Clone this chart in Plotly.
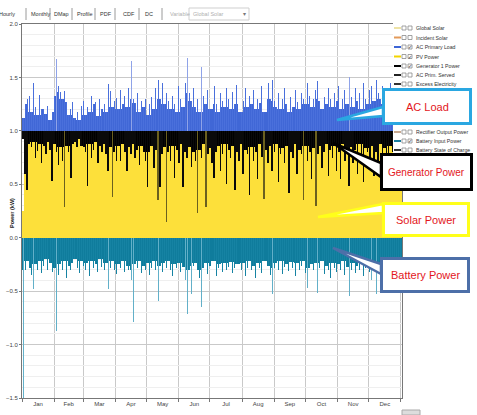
import plotly.graph_objects as go

# ---------------- data (one value per 2 days) ----------------
months = ["Jan", "Feb", "Mar", "Apr", "May", "Jun", "Jul", "Aug", "Sep", "Oct", "Nov", "Dec"]
month_start_day = [0, 31, 59, 90, 120, 151, 181, 212, 243, 273, 304, 334, 365]
y_ticks = [-1.5, -1.0, -0.5, 0.0, 0.5, 1.0, 1.5, 2.0]

# AC primary load peaks (kW)
ac_load = [
    1.12, 1.25, 1.30, 1.33, 1.18, 1.45, 1.22, 1.15, 1.34, 1.20,
    1.20, 1.16, 1.23, 1.10, 1.18, 1.33, 1.67, 1.42, 1.36, 1.30,
    1.37, 1.27, 1.15, 1.20, 1.27, 1.12, 1.18, 1.10, 1.23, 1.28,
    1.15, 1.22, 1.18, 1.33, 1.25, 1.27, 1.14, 1.30, 1.20, 1.25,
    1.18, 1.44, 1.37, 1.22, 1.28, 1.31, 1.20, 1.38, 1.25, 1.33,
    1.22, 1.40, 1.65, 1.30, 1.26, 1.35, 1.18, 1.28, 1.22, 1.30,
    1.15, 1.25, 1.32, 1.20, 1.40, 1.48, 1.30, 1.45, 1.25, 1.35,
    1.28, 1.20, 1.33, 1.25, 1.18, 1.42, 1.30, 1.22, 1.45, 1.68,
    1.35, 1.28, 1.40, 1.22, 1.30, 1.18, 1.60, 1.33, 1.25, 1.38,
    1.20, 1.30, 1.42, 1.25, 1.18, 1.35, 1.28, 1.22, 1.40, 1.30,
    1.20, 1.36, 1.25, 1.43, 1.30, 1.18, 1.28, 1.40, 1.22, 1.33,
    1.25, 1.38, 1.20, 1.30, 1.26, 1.42, 1.18, 1.32, 1.45, 1.30,
    1.48, 1.28, 1.22, 1.35, 1.20, 1.30, 1.40, 1.25, 1.18, 1.32,
    1.22, 1.38, 1.27, 1.20, 1.35, 1.30, 1.25, 1.45, 1.33, 1.22,
    1.30, 1.38, 1.47, 1.28, 1.20, 1.32, 1.25, 1.40, 1.30, 1.22,
    1.35, 1.28, 1.42, 1.20, 1.30, 1.38, 1.25, 1.50, 1.32, 1.22,
    1.40, 1.28, 1.35, 1.20, 1.45, 1.30, 1.25, 1.38, 1.42, 1.28,
    1.48, 1.35, 1.30, 1.42, 1.25, 1.38, 1.33, 1.45, 1.30, 1.40,
    1.35, 1.28, 1.42,
]

# lower edge of the generator band (kW)
generator = [
    0.92, 0.60, 0.45, 0.88, 0.85, 0.90, 0.75, 0.81, 0.88, 0.70,
    0.86, 0.78, 0.90, 0.82, 0.53, 0.88, 0.80, 0.68, 0.85, 0.72,
    0.29, 0.86, 0.80, 0.56, 0.88, 0.90, 0.85, 0.92, 0.86, 0.85,
    0.80, 0.48, 0.88, 0.75, 0.82, 0.90, 0.70, 0.86, 0.80, 0.88,
    0.78, 0.62, 0.85, 0.38, 0.80, 0.72, 0.86, 0.72, 0.88, 0.80,
    0.62, 0.85, 0.78, 0.88, 0.75, 0.82, 0.68, 0.86, 0.80, 0.72,
    0.47, 0.80, 0.86, 0.65, 0.82, 0.35, 0.47, 0.78, 0.85, 0.15,
    0.80, 0.72, 0.86, 0.56, 0.82, 0.70, 0.88, 0.47, 0.80, 0.75,
    0.85, 0.66, 0.80, 0.72, 0.23, 0.82, 0.75, 0.88, 0.29, 0.78,
    0.84, 0.70, 0.56, 0.80, 0.86, 0.62, 0.78, 0.88, 0.50, 0.82,
    0.75, 0.86, 0.45, 0.80, 0.72, 0.88, 0.60, 0.82, 0.78, 0.40,
    0.85, 0.72, 0.80, 0.55, 0.88, 0.76, 0.36, 0.82, 0.70, 0.86,
    0.62, 0.80, 0.88, 0.52, 0.78, 0.84, 0.70, 0.86, 0.42, 0.80,
    0.75, 0.88, 0.60, 0.82, 0.78, 0.35, 0.86, 0.72, 0.80, 0.55,
    0.84, 0.30, 0.78, 0.86, 0.65, 0.80, 0.88, 0.58, 0.82, 0.75,
    0.86, 0.62, 0.80, 0.55, 0.88, 0.72, 0.80, 0.48, 0.85, 0.70,
    0.82, 0.60, 0.88, 0.76, 0.52, 0.84, 0.80, 0.68, 0.86, 0.58,
    0.80, 0.72, 0.88, 0.62, 0.84, 0.78, 0.55, 0.86, 0.80, 0.70,
    0.85, 0.66, 0.82,
]

# PV power (kW) - flat plateau at 1.0 after the first day
pv_power = [0.25] + [1.0] * 182

# battery input power (kW, negative = discharge)
battery = [
    -1.50, -0.30, -0.22, -0.28, -0.35, -0.48, -0.25, -0.30, -0.22, -0.33,
    -0.26, -0.20, -0.30, -0.24, -0.32, -0.28, -0.87, -0.35, -0.25, -0.30,
    -0.22, -0.38, -0.26, -0.30, -0.24, -0.20, -0.28, -0.33, -0.22, -0.26,
    -0.30, -0.24, -0.36, -0.22, -0.28, -0.25, -0.32, -0.20, -0.27, -0.30,
    -0.24, -0.48, -0.28, -0.22, -0.30, -0.34, -0.25, -0.28, -0.22, -0.32,
    -0.26, -0.30, -0.40, -0.79, -0.25, -0.28, -0.22, -0.33, -0.26, -0.30,
    -0.24, -0.35, -0.28, -0.22, -0.30, -0.59, -0.26, -0.32, -0.24, -0.28,
    -0.22, -0.30, -0.36, -0.25, -0.28, -0.24, -0.32, -0.27, -0.40, -0.71,
    -0.30, -0.53, -0.26, -0.24, -0.30, -0.38, -0.65, -0.28, -0.24, -0.34,
    -0.26, -0.30, -0.22, -0.36, -0.28, -0.25, -0.32, -0.24, -0.30, -0.27,
    -0.23, -0.33, -0.28, -0.25, -0.47, -0.30, -0.24, -0.36, -0.28, -0.22,
    -0.30, -0.26, -0.38, -0.24, -0.28, -0.33, -0.22, -0.30, -0.26, -0.35,
    -0.53, -0.28, -0.24, -0.30, -0.22, -0.34, -0.27, -0.25, -0.31, -0.23,
    -0.28, -0.36, -0.24, -0.30, -0.26, -0.22, -0.33, -0.47, -0.28, -0.25,
    -0.30, -0.24, -0.52, -0.28, -0.22, -0.34, -0.26, -0.30, -0.38, -0.24,
    -0.28, -0.32, -0.25, -0.30, -0.22, -0.35, -0.27, -0.55, -0.30, -0.24,
    -0.33, -0.26, -0.30, -0.22, -0.36, -0.28, -0.25, -0.32, -0.40, -0.26,
    -0.53, -0.30, -0.24, -0.34, -0.28, -0.22, -0.30, -0.38, -0.26, -0.32,
    -0.28, -0.35, -0.30,
]

# legend rows that are visible (rows hidden behind the AC Load box are omitted)
legend_rows = [
    ("Global Solar", "#eee3a6", False, 28),
    ("Incident Solar", "#e39a5a", False, 37.5),
    ("AC Primary Load", "#3d66d6", True, 47),
    ("PV Power", "#f2d400", True, 56.5),
    ("Generator 1 Power", "#000000", True, 66),
    ("AC Prim. Served", "#222222", False, 75),
    ("Excess Electricity", "#333333", False, 84),
    ("Rectifier Output Power", "#c8a890", False, 132),
    ("Battery Input Power", "#1a7fa0", True, 141),
    ("Battery State of Charge", "#333333", False, 150),
]
tabs = ["Hourly", "Monthly", "DMap", "Profile", "PDF", "CDF", "DC"]

# ---------------- geometry helpers (pixel -> paper) ----------------
L, R, T, B, W, H = 22, 75, 24, 17, 477, 415
PW, PH = W - L - R, H - T - B


def px(x):
    return (x - L) / PW


def py(y):
    return (H - B - y) / PH


n = len(ac_load)
xpos = [2 * i + 1 for i in range(n)]


def nb(vals, i):
    return [vals[j] for j in (i - 1, i, i + 1) if 0 <= j < n]


# dense (solid) part of each band: envelope of neighbouring values
load_band = [min(nb(ac_load, i)) for i in range(n)]
gen_band = [max(nb(generator, i)) for i in range(n)]
batt_band = [max(nb(battery, i)) for i in range(n)]

fig = go.Figure()
fig.add_trace(go.Bar(x=xpos, y=pv_power, base=0, width=2.05,
                     marker=dict(color="#fde03a", line=dict(width=0))))
# generator: solid band + dips
fig.add_trace(go.Bar(x=xpos, y=[g - 1.0 for g in gen_band], base=1.0, width=2.05,
                     marker=dict(color="#000000", line=dict(width=0))))
fig.add_trace(go.Bar(x=xpos, y=[g - 1.0 for g in generator], base=1.0, width=1.4,
                     marker=dict(color=["#6b601f" if g < 0.4 else "#0a0a0a" for g in generator],
                                 line=dict(width=0))))
# AC load: solid band + thin spikes
fig.add_trace(go.Bar(x=xpos, y=[a - 1.0 for a in load_band], base=1.0, width=2.05,
                     marker=dict(color="#4067d6", line=dict(width=0))))
fig.add_trace(go.Bar(x=xpos, y=[a - 1.0 for a in ac_load], base=1.0, width=0.95,
                     marker=dict(color=["#8fa3e8" if a >= 1.5 else "#4a70dc" for a in ac_load],
                                 line=dict(width=0))))
# battery: solid band + thin spikes
fig.add_trace(go.Bar(x=xpos, y=batt_band, base=0, width=2.05,
                     marker=dict(color="#0f7c9c", line=dict(width=0))))
fig.add_trace(go.Bar(x=xpos, y=battery, base=0, width=0.95,
                     marker=dict(color=["#62b0c9" if b <= -0.4 else "#1683a3" for b in battery],
                                 line=dict(width=0))))

mid_month = [(month_start_day[i] + month_start_day[i + 1]) / 2 for i in range(12)]

fig.update_layout(
    width=W, height=H, margin=dict(l=L, r=R, t=T, b=B, autoexpand=False),
    paper_bgcolor="white", plot_bgcolor="white",
    barmode="overlay", bargap=0, showlegend=False, hovermode=False,
    font=dict(family="Liberation Sans", size=6, color="#333333"),
)
fig.update_xaxes(
    range=[0, 366], tickmode="array", tickvals=mid_month, ticktext=months,
    ticks="", showgrid=False, zeroline=False, automargin=False,
    showline=True, linecolor="#777777", linewidth=1, mirror=True,
    tickfont=dict(size=6, color="#444444"),
    minor=dict(tickmode="array", tickvals=month_start_day, showgrid=True,
               gridcolor="#c9c9c9", gridwidth=1, ticks="outside", ticklen=3,
               tickcolor="#777777"),
)
fig.update_yaxes(
    range=[-1.5, 2.0], tickmode="array", tickvals=y_ticks, tickformat=".1f",
    showgrid=True, gridcolor="#c9c9c9", zeroline=False, automargin=False,
    showline=True, linecolor="#777777", linewidth=1, mirror=True,
    ticks="outside", ticklen=2, tickcolor="#777777",
    tickfont=dict(size=6, color="#444444"),
    minor=dict(dtick=0.1, showgrid=True, gridcolor="#efefef"),
)

shapes = []
ann = []

# y-axis title
ann.append(dict(x=px(7), y=py(213), xref="paper", yref="paper", text="<b>Power (kW)</b>",
                textangle=-90, showarrow=False, font=dict(size=5.5, color="#222")))

# toolbar tabs
tab_x = [-3, 29, 52, 75, 98, 121, 143]
sep_x = [26, 50, 72, 95, 115, 139, 162]
for t, x0 in zip(tabs, tab_x):
    ann.append(dict(x=px(x0), y=py(14), xref="paper", yref="paper", text=t,
                    xanchor="left", yanchor="middle", showarrow=False,
                    font=dict(size=5.5, color="#333")))
for sx in sep_x:
    shapes.append(dict(type="line", xref="paper", yref="paper", x0=px(sx), x1=px(sx),
                       y0=py(8), y1=py(20), line=dict(color="#9a9a9a", width=1)))
ann.append(dict(x=px(168), y=py(14), xref="paper", yref="paper", text="Variable",
                xanchor="left", yanchor="middle", showarrow=False,
                font=dict(size=5.5, color="#b0b0b0")))
shapes.append(dict(type="rect", xref="paper", yref="paper", x0=px(189), x1=px(249),
                   y0=py(20), y1=py(8), line=dict(color="#cfcfcf", width=1), fillcolor="white"))
ann.append(dict(x=px(191), y=py(14), xref="paper", yref="paper", text="Global Solar",
                xanchor="left", yanchor="middle", showarrow=False,
                font=dict(size=5.5, color="#b0b0b0")))
ann.append(dict(x=px(244), y=py(14), xref="paper", yref="paper", text="▾",
                xanchor="center", yanchor="middle", showarrow=False,
                font=dict(size=6, color="#777")))

# legend panel
shapes.append(dict(type="rect", xref="paper", yref="paper", x0=px(393), x1=px(478),
                   y0=py(158), y1=py(20), line=dict(width=0), fillcolor="white", layer="above"))
for name, col, chk, yy in legend_rows:
    shapes.append(dict(type="line", xref="paper", yref="paper", x0=px(394), x1=px(401),
                       y0=py(yy), y1=py(yy), line=dict(color=col, width=2), layer="above"))
    for cx in (404, 410):
        shapes.append(dict(type="rect", xref="paper", yref="paper", x0=px(cx - 2), x1=px(cx + 2),
                           y0=py(yy + 2), y1=py(yy - 2), line=dict(color="#8a8a8a", width=0.8),
                           fillcolor="white", layer="above"))
    if chk:
        ann.append(dict(x=px(410), y=py(yy), xref="paper", yref="paper", text="✓",
                        xanchor="center", yanchor="middle", showarrow=False,
                        font=dict(size=5, color="#222")))
    ann.append(dict(x=px(414), y=py(yy), xref="paper", yref="paper", text=name,
                    xanchor="left", yanchor="middle", showarrow=False,
                    font=dict(size=5.2, color="#333")))

# callouts: (label, border colour, box x0,x1,y0,y1, wedge tip, wedge base y's, font size)
callouts = [
    ("AC Load", "#2aa7e1", 382, 472, 88, 125, (337, 120), (107, 116), 11),
    ("Generator Power", "#000000", 380, 473, 153, 191, (333, 143), (163, 177), 10),
    ("Solar Power", "#ffff1a", 382, 470, 202, 237, (318, 217), (204, 213), 11),
    ("Battery Power", "#4d6fa8", 380, 470, 257, 293, (333, 248), (264, 274), 11),
]
for lab, col, x0, x1, y0, y1, tip, by, fs in callouts:
    path = "M {:.4f},{:.4f} L {:.4f},{:.4f} L {:.4f},{:.4f} Z".format(
        px(x0 + 1), py(by[0]), px(tip[0]), py(tip[1]), px(x0 + 1), py(by[1]))
    shapes.append(dict(type="path", xref="paper", yref="paper", path=path,
                       fillcolor="white", line=dict(color=col, width=2.5), layer="above"))
    shapes.append(dict(type="rect", xref="paper", yref="paper",
                       x0=px(x0 + 1.5), x1=px(x1 - 1.5), y0=py(y1 - 1.5), y1=py(y0 + 1.5),
                       fillcolor="white", line=dict(color=col, width=3), layer="above"))
    ann.append(dict(x=px((x0 + x1) / 2), y=py((y0 + y1) / 2), xref="paper", yref="paper",
                    text=lab, showarrow=False, xanchor="center", yanchor="middle",
                    font=dict(size=fs, color="#e3161c", family="Liberation Sans")))

# small scroll widget bottom right
shapes.append(dict(type="rect", xref="paper", yref="paper", x0=px(402), x1=px(420),
                   y0=py(415), y1=py(410), line=dict(color="#aaaaaa", width=1), fillcolor="#dddddd"))

fig.update_layout(shapes=shapes, annotations=ann)
fig.write_html("out.html", config={"displayModeBar": False, "staticPlot": True},
               post_script="document.body.style.margin='0';document.body.style.overflow='hidden';")
